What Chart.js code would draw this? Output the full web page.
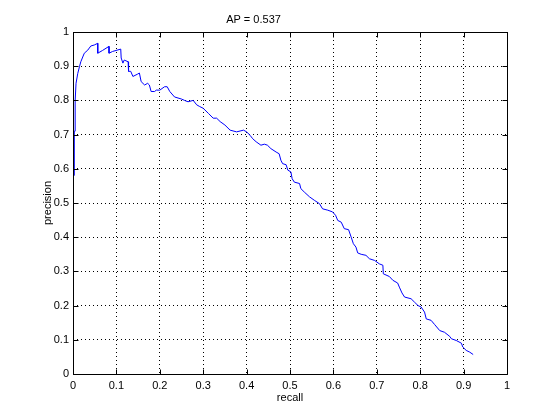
<!DOCTYPE html>
<html>
<head>
<meta charset="utf-8">
<script src="https://cdn.jsdelivr.net/npm/chart.js@4/dist/chart.umd.min.js"></script>
<style>
html,body{margin:0;padding:0;background:#fff;}
canvas{display:block;}
</style>
</head>
<body>
<canvas id="c" width="560" height="420"></canvas>
<script>
const chartTitle = "AP = 0.537";
const xLabel = "recall";
const yLabel = "precision";
const tickValues = [0,0.1,0.2,0.3,0.4,0.5,0.6,0.7,0.8,0.9,1];
const tickLabels = ["0","0.1","0.2","0.3","0.4","0.5","0.6","0.7","0.8","0.9","1"];

const recall = [
0.003,0.003,0.005,0.005,0.007,0.011,0.015,0.018,0.026,0.034,0.041,0.049,0.057,0.057,0.068,0.083,0.083,0.091,0.110,0.111,
0.115,0.118,0.127,0.128,0.133,0.138,0.149,0.153,0.157,0.165,0.172,0.176,0.180,0.188,0.192,0.200,0.211,0.217,0.223,0.234,
0.250,0.257,0.265,0.277,0.285,0.292,0.300,0.312,0.323,0.331,0.339,0.350,0.362,0.377,0.393,0.400,0.408,0.414,0.422,0.433,
0.441,0.448,0.456,0.468,0.475,0.479,0.483,0.491,0.495,0.502,0.505,0.510,0.522,0.525,0.533,0.545,0.556,0.568,0.575,0.587,
0.598,0.605,0.610,0.618,0.625,0.635,0.641,0.646,0.652,0.656,0.664,0.675,0.683,0.695,0.706,0.714,0.715,0.729,0.737,0.748,
0.752,0.758,0.764,0.779,0.787,0.795,0.802,0.810,0.814,0.825,0.833,0.845,0.856,0.868,0.872,0.883,0.895,0.898,0.906,0.914,0.922
];
const precision = [
0.58,0.71,0.71,0.80,0.85,0.879,0.899,0.913,0.938,0.947,0.959,0.962,0.967,0.938,0.946,0.958,0.938,0.943,0.950,0.924,
0.909,0.918,0.913,0.885,0.885,0.870,0.877,0.880,0.855,0.845,0.850,0.845,0.826,0.826,0.830,0.830,0.840,0.840,0.826,0.810,
0.804,0.800,0.796,0.800,0.787,0.782,0.777,0.762,0.748,0.748,0.738,0.728,0.713,0.708,0.713,0.708,0.698,0.688,0.679,0.669,
0.672,0.669,0.659,0.649,0.644,0.625,0.615,0.612,0.596,0.591,0.571,0.561,0.557,0.542,0.532,0.518,0.508,0.498,0.483,0.479,
0.474,0.464,0.449,0.444,0.425,0.422,0.400,0.381,0.371,0.354,0.350,0.347,0.337,0.332,0.322,0.318,0.293,0.285,0.274,0.266,
0.254,0.237,0.225,0.220,0.210,0.200,0.196,0.181,0.161,0.157,0.145,0.127,0.122,0.110,0.103,0.098,0.090,0.079,0.069,0.064,0.057
];

const points = recall.map((r,i)=>({x:r,y:precision[i]}));
const FONT = {family:"'Liberation Sans', Arial, Helvetica, sans-serif", size:11};

const boxPlugin = {
  id:'matlabBox',
  afterDraw(chart){
    const {ctx, chartArea:a, scales:{x,y}} = chart;
    ctx.save();
    ctx.strokeStyle='#000';
    ctx.lineWidth=1;
    ctx.setLineDash([]);
    const L=Math.round(a.left)+0.5, R=Math.round(a.right)+0.5, T=Math.round(a.top)+0.5, B=Math.round(a.bottom)+0.5;
    ctx.beginPath();
    ctx.rect(L,T,R-L,B-T);
    const tl=5;
    tickValues.forEach(v=>{
      const px=Math.round(x.getPixelForValue(v))+0.5;
      ctx.moveTo(px,B); ctx.lineTo(px,B-tl);
      ctx.moveTo(px,T); ctx.lineTo(px,T+tl);
      const py=Math.round(y.getPixelForValue(v))+0.5;
      ctx.moveTo(L,py); ctx.lineTo(L+tl,py);
      ctx.moveTo(R,py); ctx.lineTo(R-tl,py);
    });
    ctx.stroke();
    ctx.restore();
  }
};
const bgPlugin = {
  id:'bg',
  beforeDraw(chart){
    const c=chart.ctx; c.save(); c.fillStyle='#fff'; c.fillRect(0,0,chart.width,chart.height); c.restore();
  }
};

new Chart(document.getElementById('c'), {
  type:'scatter',
  data:{datasets:[{
    data:points,
    showLine:true,
    borderColor:'#0000ff',
    backgroundColor:'#0000ff',
    borderWidth:1,
    pointRadius:0,
    tension:0,
    clip:false
  }]},
  options:{
    responsive:false,
    animation:false,
    layout:{padding:{left:0,right:53,top:0,bottom:0}},
    plugins:{
      legend:{display:false},
      tooltip:{enabled:false},
      title:{display:true,text:chartTitle,color:'#000',font:{...FONT,weight:'normal'},padding:{top:13,bottom:5.8}}
    },
    scales:{
      x:{
        type:'linear',min:0,max:1,
        afterBuildTicks(s){ s.ticks = tickValues.map(v=>({value:v})); },
        afterFit(s){ s.height = 46; },
        border:{display:false,dash:[1,3]},
        grid:{color:'#000',lineWidth:1,drawTicks:false},
        ticks:{color:'#000',font:FONT,padding:5,maxRotation:0,autoSkip:false,
          callback:(v,i)=>tickLabels[i]},
        title:{display:true,text:xLabel,color:'#000',font:FONT,padding:{top:0,bottom:15}}
      },
      y:{
        type:'linear',min:0,max:1,
        afterBuildTicks(s){ s.ticks = tickValues.map(v=>({value:v})); },
        afterFit(s){ s.width = 73; },
        border:{display:false,dash:[1,3]},
        grid:{color:'#000',lineWidth:1,drawTicks:false},
        ticks:{color:'#000',font:FONT,padding:4,autoSkip:false,
          callback:(v,i)=>tickLabels[i]},
        title:{display:true,text:yLabel,color:'#000',font:FONT,padding:{top:41,bottom:0}}
      }
    }
  },
  plugins:[bgPlugin, boxPlugin]
});
</script>
</body>
</html>
